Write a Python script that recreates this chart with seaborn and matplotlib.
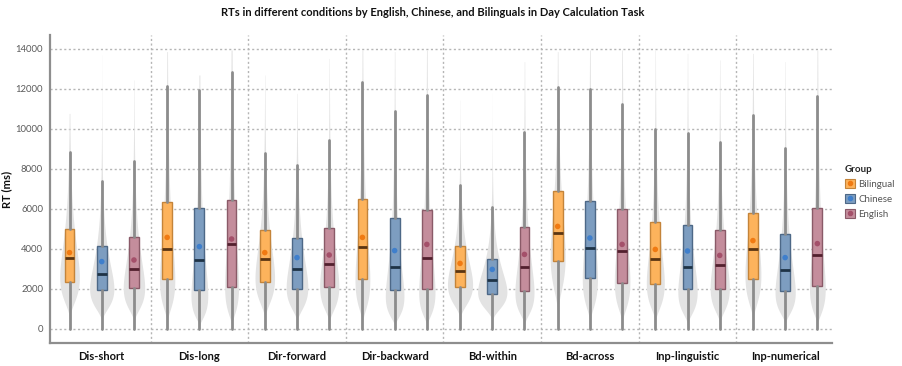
import numpy as np
import pandas as pd
import matplotlib
matplotlib.use("Agg")
import matplotlib.pyplot as plt
from matplotlib.patches import Patch
from matplotlib.lines import Line2D
import seaborn as sns

# ---- data (RT summaries in ms) ----
conditions = ["Dis-short", "Dis-long", "Dir-forward", "Dir-backward",
              "Bd-within", "Bd-across", "Inp-linguistic", "Inp-numerical"]
groups = ["Bilingual", "Chinese", "English"]

bil_q1 = [2370, 2480, 2330, 2480, 2100, 3400, 2250, 2480]
bil_med = [3530, 4000, 3480, 4100, 2880, 4800, 3480, 4020]
bil_q3 = [5000, 6330, 4950, 6480, 4170, 6920, 5350, 5780]
bil_mean = [3820, 4580, 3820, 4580, 3280, 5130, 3980, 4420]
bil_whi = [8870, 12150, 8820, 12330, 7200, 12120, 9980, 10680]
bil_max = [10780, 13870, 12700, 13950, 11450, 13870, 13950, 13780]

chi_q1 = [1950, 1950, 2020, 1930, 1750, 2550, 2000, 1880]
chi_med = [2770, 3450, 3000, 3080, 2430, 4050, 3080, 2970]
chi_q3 = [4170, 6070, 4550, 5570, 3520, 6420, 5180, 4770]
chi_mean = [3370, 4120, 3570, 3920, 2980, 4550, 3900, 3570]
chi_whi = [7420, 11950, 8200, 10880, 6080, 11980, 9820, 9030]
chi_max = [13700, 12700, 11780, 13870, 11780, 13950, 13780, 13370]

eng_q1 = [2030, 2120, 2100, 2020, 1920, 2320, 2020, 2130]
eng_med = [3000, 4250, 3250, 3550, 3100, 3900, 3200, 3720]
eng_q3 = [4620, 6430, 5030, 5950, 5080, 5980, 4970, 6030]
eng_mean = [3450, 4500, 3700, 4230, 3730, 4230, 3680, 4270]
eng_whi = [8400, 12830, 9450, 11680, 9830, 11250, 9330, 11670]
eng_max = [12450, 13950, 13530, 13950, 13370, 13950, 13450, 13950]

rt_min = 0
y_ticks = [0, 2000, 4000, 6000, 8000, 10000, 12000, 14000]

summary = {
    "Bilingual": dict(q1=bil_q1, med=bil_med, q3=bil_q3, mean=bil_mean, whi=bil_whi, vmax=bil_max),
    "Chinese": dict(q1=chi_q1, med=chi_med, q3=chi_q3, mean=chi_mean, whi=chi_whi, vmax=chi_max),
    "English": dict(q1=eng_q1, med=eng_med, q3=eng_q3, mean=eng_mean, whi=eng_whi, vmax=eng_max),
}

# ---- styling ----
fill = {"Bilingual": "#FDB35C", "Chinese": "#7D9DC0", "English": "#C48D9C"}
edge = {"Bilingual": "#C4843A", "Chinese": "#4D6887", "English": "#8A5A68"}
median_c = {"Bilingual": "#5A3512", "Chinese": "#1E3346", "English": "#52202E"}
mean_c = {"Bilingual": "#F07A12", "Chinese": "#3F7FCC", "English": "#A4506A"}

sns.set_theme(style="white")
plt.rcParams["font.family"] = ["Lato", "DejaVu Sans"]

fig = plt.figure(figsize=(9.02, 3.66), dpi=100)
ax = fig.add_axes([50 / 902, 23 / 366, 782 / 902, 308 / 366])

dodge = 0.33
box_w = 0.1
violin_w = 0.3
offsets = {g: (i - 1) * dodge for i, g in enumerate(groups)}

# ---- violin outlines: log-normal density fitted to each box's quartiles ----
shapes = []
for g in groups:
    s = summary[g]
    for k in range(len(conditions)):
        mu = np.log(s["med"][k])
        sig = (np.log(s["q3"][k]) - np.log(s["q1"][k])) / 1.349
        yy = np.linspace(max(rt_min, 30), s["vmax"][k], 400)
        dens = np.exp(-(np.log(yy) - mu) ** 2 / (2 * sig ** 2)) / (yy * sig * np.sqrt(2 * np.pi))
        dens /= np.trapezoid(dens, yy)
        shapes.append((k + offsets[g], yy, dens))
peak = max(d.max() for _, _, d in shapes)
for xc, yy, dens in shapes:
    half = dens / peak * violin_w / 2
    ax.fill_betweenx(yy, xc - half, xc + half, color="#E3E3E3", lw=0, zorder=1)

# ---- boxes with whiskers ----
for g in groups:
    s = summary[g]
    stats = [dict(med=s["med"][k], q1=s["q1"][k], q3=s["q3"][k],
                  whislo=rt_min, whishi=s["whi"][k], fliers=[])
             for k in range(len(conditions))]
    pos = [k + offsets[g] for k in range(len(conditions))]
    ax.bxp(stats, positions=pos, widths=box_w, patch_artist=True,
           showcaps=False, showfliers=False, manage_ticks=False,
           boxprops=dict(facecolor=fill[g], edgecolor=edge[g], linewidth=1.0),
           whiskerprops=dict(color="#8C8C8C", linewidth=2.0),
           medianprops=dict(color=median_c[g], linewidth=2.0),
           zorder=3)

# ---- group means ----
means = pd.DataFrame([
    dict(pos=k + offsets[g], rt=summary[g]["mean"][k], group=g)
    for g in groups for k in range(len(conditions))
])
sns.scatterplot(data=means, x="pos", y="rt", hue="group", palette=mean_c,
                s=16, edgecolor="none", legend=False, zorder=5, ax=ax)

# ---- axes, grid ----
ax.set_xlim(-0.53, len(conditions) - 0.52)
ax.set_ylim(-700, 14700)
ax.set_yticks(y_ticks)
ax.set_yticklabels([str(v) for v in y_ticks], color="#5A5A5A", fontsize=6.8)
ax.set_xticks(range(len(conditions)))
ax.set_xticklabels(conditions, fontsize=8, fontweight="bold", color="#111111")
ax.set_xticks([k + o for k in range(len(conditions)) for o in offsets.values()], minor=True)
ax.tick_params(axis="x", which="major", length=0, pad=6)
ax.tick_params(axis="x", which="minor", length=2.5, color="#9A9A9A", width=0.8)
ax.tick_params(axis="y", length=3, color="#9A9A9A", width=0.8, pad=2)
for yv in y_ticks:
    ax.axhline(yv, color="#B5B5B5", lw=1.0, ls=(0, (1.5, 1.8)), zorder=0)
for b in np.arange(0.5, len(conditions) - 1, 1.0):
    ax.axvline(b, color="#B5B5B5", lw=1.0, ls=(0, (1.5, 1.8)), zorder=0)
ax.grid(False)
for side in ["top", "right"]:
    ax.spines[side].set_visible(False)
for side in ["left", "bottom"]:
    ax.spines[side].set_color("#8E8E8E")
    ax.spines[side].set_linewidth(1.6)
ax.set_xlabel("")
ax.set_ylabel("RT (ms)", fontsize=8, fontweight="bold", color="#111111")
ax.yaxis.set_label_coords(-38 / 782, 0.5)

fig.text(433 / 902, 1 - 12 / 366,
         "RTs in different conditions by English, Chinese, and Bilinguals in Day Calculation Task",
         ha="center", va="center", fontsize=8, fontweight="bold", color="#111111")

# ---- legend ----
handles = [(Patch(facecolor=fill[g], edgecolor=edge[g], linewidth=0.8),
            Line2D([], [], marker="o", ls="none", color=mean_c[g], markersize=3))
           for g in groups]
leg = fig.legend(handles, groups, title="Group", loc="upper left",
                 bbox_to_anchor=(841 / 902, 1 - 161 / 366), frameon=False,
                 fontsize=7, title_fontsize=7, handlelength=1.0, handleheight=1.0,
                 handletextpad=0.4, labelspacing=0.55, borderaxespad=0)
leg.get_title().set_fontweight("bold")
leg._legend_box.align = "left"
for t in leg.get_texts():
    t.set_color("#555555")

fig.savefig("out.png", dpi=100)
